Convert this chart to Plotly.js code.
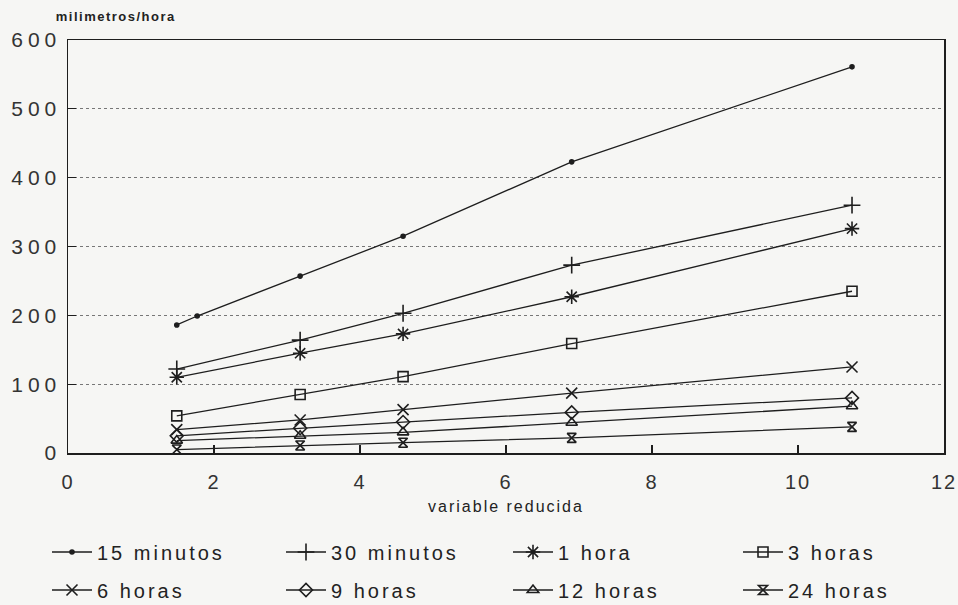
<!DOCTYPE html>
<html>
<head>
<meta charset="utf-8">
<script src="https://cdn.plot.ly/plotly-3.0.1.min.js"></script>
<style>
html,body{margin:0;padding:0;background:#f6f6f4;}
#chart{width:958px;height:605px;}
#chart .ytick text{letter-spacing:5px;}
#chart .xtick text{letter-spacing:2px;}
#chart .g-xtitle text{letter-spacing:2px;}
#chart .annotation-text{letter-spacing:1.5px;}
</style>
</head>
<body>
<div id="chart"></div>
<script>
// Reduced variable (x) positions
const xReduced = [1.49, 3.18, 4.59, 6.90, 10.74];
const x15 = [1.49, 1.77, 3.18, 4.59, 6.90, 10.74];

// Intensities (mm/h)
const min15 = [186, 199, 257, 315, 423, 561];
const min30 = [122, 164, 203, 273, 360];
const hora1 = [110, 145, 173, 227, 326];
const horas3 = [54, 85, 111, 159, 235];
const horas6 = [34, 48, 63, 87, 125];
const horas9 = [25, 36, 45, 59, 80];
const horas12 = [18, 25, 30, 44, 68];
const horas24 = [5, 11, 15, 22, 38];

const names = ['15 minutos', '30 minutos', '1 hora', '3 horas', '6 horas', '9 horas', '12 horas', '24 horas'];
const series = [min15, min30, hora1, horas3, horas6, horas9, horas12, horas24];
const symbols = ['circle', 'cross-thin-open', 'asterisk-open', 'square-open', 'x-thin-open', 'diamond-open', 'triangle-up-open', 'hourglass-open'];
const sizes = [4, 12, 12, 10, 11, 10, 10, 9];

const ink = '#1e1e1e';
const font = 'Liberation Sans, Arial, sans-serif';
const legendIds = ['legend', 'legend2', 'legend3', 'legend4', 'legend5', 'legend6', 'legend7', 'legend8'];

const traces = series.map((ys, i) => ({
  type: 'scatter',
  mode: 'lines+markers',
  name: names[i],
  x: i === 0 ? x15 : xReduced,
  y: ys,
  line: {color: ink, width: 1.3},
  marker: {symbol: symbols[i], size: sizes[i], color: ink, line: {color: ink, width: 1.6}},
  legend: legendIds[i]
}));

// plot area in pixels: x 68..944, y 40..453
const px2x = p => (p - 68) / 876;
const px2y = p => (453 - p) / 413;
const colPx = [47, 281, 508, 738];
const rowPx = [552, 590];

const layout = {
  width: 958, height: 605,
  paper_bgcolor: '#f6f6f4',
  plot_bgcolor: '#f6f6f4',
  margin: {l: 68, r: 14, t: 40, b: 152, autoexpand: false},
  showlegend: true,
  xaxis: {
    range: [0, 12], tickvals: [0, 2, 4, 6, 8, 10, 12],
    showline: true, mirror: true, linecolor: ink, linewidth: 1.5,
    ticks: 'inside', ticklen: 8, tickcolor: ink, tickwidth: 1.3,
    showgrid: false, zeroline: false,
    tickfont: {family: font, size: 20, color: '#333'},
    ticklabelstandoff: 10,
    title: {text: 'variable reducida', standoff: 9, font: {family: font, size: 16, color: '#222'}}
  },
  yaxis: {
    range: [0, 600], tickvals: [0, 100, 200, 300, 400, 500, 600],
    showline: true, mirror: true, linecolor: ink, linewidth: 1.5,
    ticks: 'inside', ticklen: 8, tickcolor: ink, tickwidth: 1.3,
    showgrid: true, gridcolor: '#777', griddash: 'dot', gridwidth: 1,
    zeroline: false,
    tickfont: {family: font, size: 21, color: '#333'},
    ticklabelstandoff: 1
  },
  annotations: [{
    text: '<b>milimetros/hora</b>', xref: 'paper', yref: 'paper',
    x: -0.003, y: 1.0, xanchor: 'left', yanchor: 'bottom', yshift: 14,
    showarrow: false,
    font: {family: font, size: 13, color: '#222'}
  }]
};

legendIds.forEach((id, i) => {
  layout[id] = {
    orientation: 'h',
    xanchor: 'left', yanchor: 'middle',
    x: px2x(colPx[i % 4]),
    y: px2y(rowPx[Math.floor(i / 4)]),
    font: {family: font, size: 20, color: '#222'},
    bgcolor: 'rgba(0,0,0,0)',
    itemwidth: 40,
    entrywidth: 180, entrywidthmode: 'pixels'
  };
});

function spaceLegendText() {
  document.querySelectorAll('#chart text').forEach(t => {
    if (names.indexOf(t.textContent.trim()) >= 0) {
      t.style.letterSpacing = '3px';
      t.setAttribute('letter-spacing', '3');
    }
  });
}

Plotly.newPlot('chart', traces, layout, {displayModeBar: false, staticPlot: true}).then(gd => {
  spaceLegendText();
  gd.on('plotly_afterplot', spaceLegendText);
  setTimeout(spaceLegendText, 0);
  setTimeout(spaceLegendText, 100);
});
</script>
</body>
</html>
